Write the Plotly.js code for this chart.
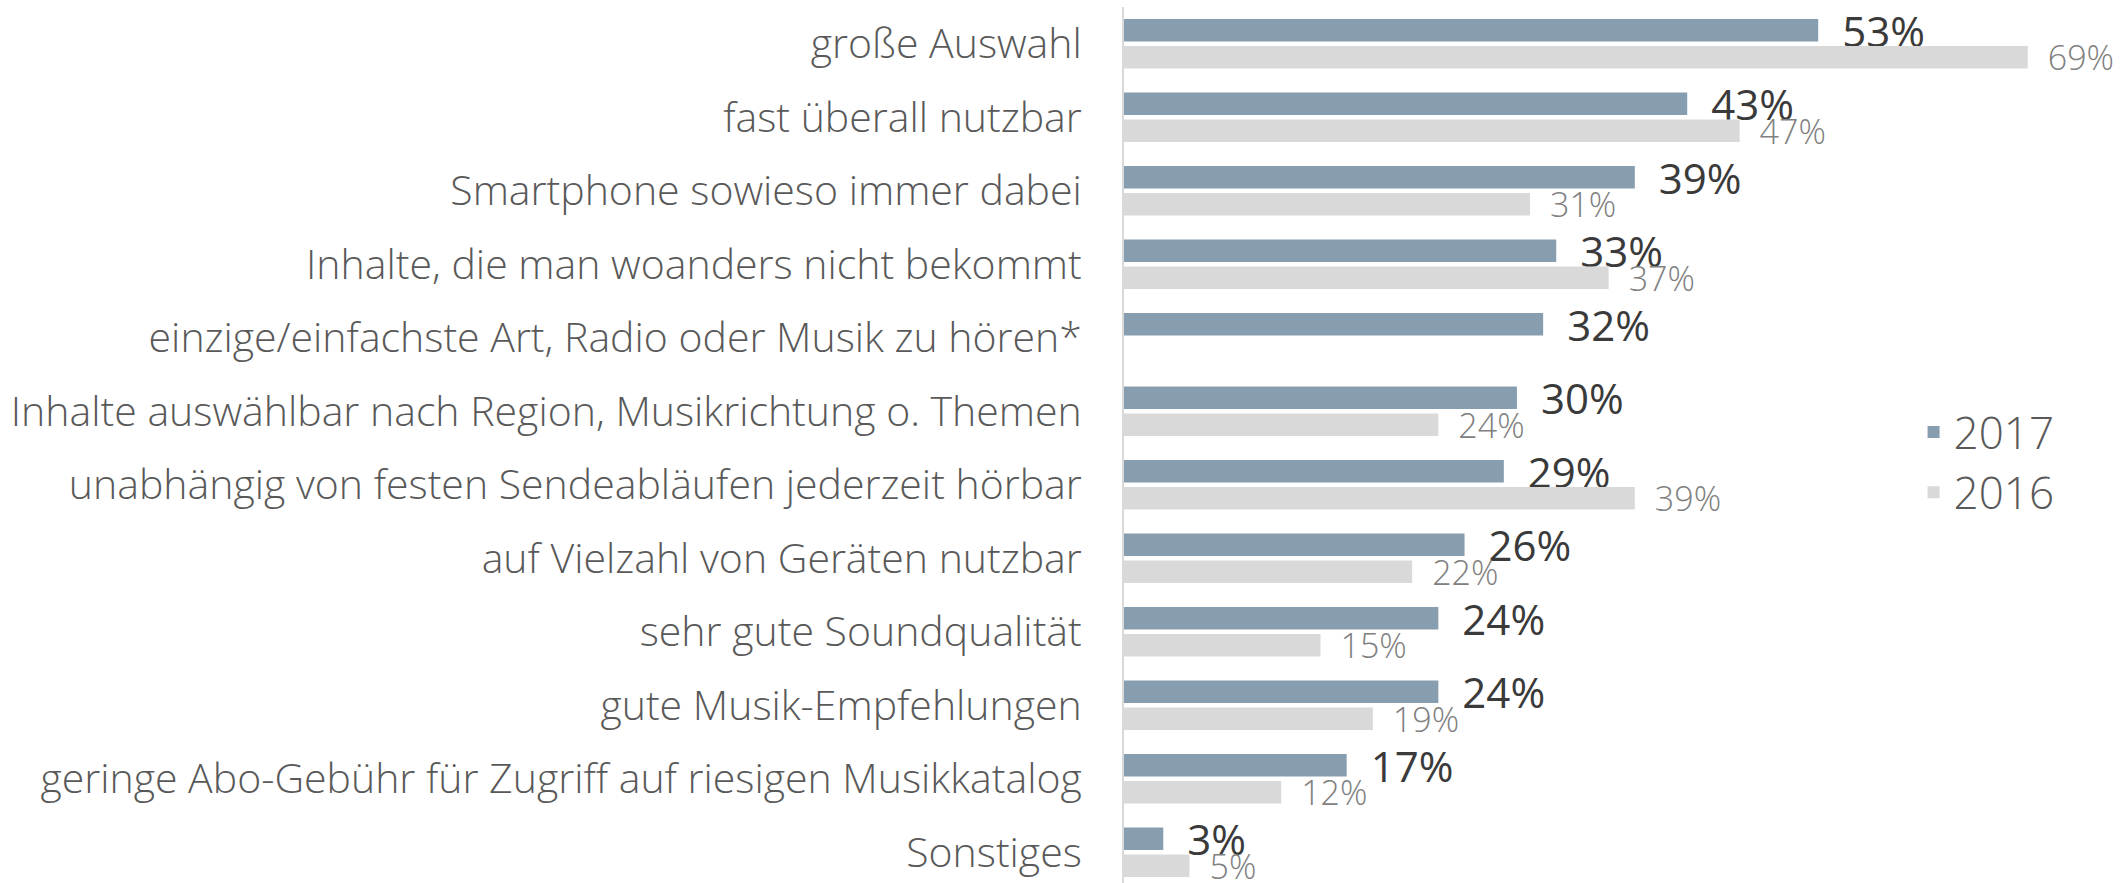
<!DOCTYPE html>
<html>
<head>
<meta charset="utf-8">
<script src="https://cdn.plot.ly/plotly-3.0.1.min.js"></script>
<style>
  html, body { margin: 0; padding: 0; background: #ffffff; }
  #chart { width: 2126px; height: 883px; }
</style>
</head>
<body>
<div id="chart"></div>
<script>
const categories = [
  "große Auswahl",
  "fast überall nutzbar",
  "Smartphone sowieso immer dabei",
  "Inhalte, die man woanders nicht bekommt",
  "einzige/einfachste Art, Radio oder Musik zu hören*",
  "Inhalte auswählbar nach Region, Musikrichtung o. Themen",
  "unabhängig von festen Sendeabläufen jederzeit hörbar",
  "auf Vielzahl von Geräten nutzbar",
  "sehr gute Soundqualität",
  "gute Musik-Empfehlungen",
  "geringe Abo-Gebühr für Zugriff auf riesigen Musikkatalog",
  "Sonstiges"
];
const values2017 = [53, 43, 39, 33, 32, 30, 29, 26, 24, 24, 17, 3];
const values2016 = [69, 47, 31, 37, null, 24, 39, 22, 15, 19, 12, 5];
const seriesNames = ["2017", "2016"];

const FONT = '"Open Sans", "Noto Sans", sans-serif';

const traces = [
  {
    type: 'bar', orientation: 'h', name: seriesNames[0],
    y: categories, x: values2017,
    marker: { color: '#879EB0' },
    text: values2017.map(v => v == null ? '' : '\u2002' + v + '%'),
    textposition: 'outside', constraintext: 'none', cliponaxis: false,
    textfont: { family: FONT, size: 42, color: '#3A3A3A' },
    hoverinfo: 'skip'
  },
  {
    type: 'bar', orientation: 'h', name: seriesNames[1],
    y: categories, x: values2016,
    marker: { color: '#D9D9D9' },
    text: values2016.map(v => v == null ? '' : '\u2002' + v + '%'),
    textposition: 'outside', constraintext: 'none', cliponaxis: false,
    textfont: { family: FONT, size: 34, color: '#808080', weight: 300 },
    hoverinfo: 'skip'
  }
];

const layout = {
  width: 2126, height: 883,
  margin: { l: 1124, r: 0, t: 7, b: 0, pad: 0 },
  paper_bgcolor: '#ffffff', plot_bgcolor: '#ffffff',
  font: { family: FONT, color: '#595959' },
  barmode: 'group', bargap: 0.265, bargroupgap: 0.17,
  showlegend: true,
  legend: {
    x: 0.788, xanchor: 'left', y: 0.48, yanchor: 'middle',
    font: { family: FONT, size: 44, color: '#595959', weight: 300 },
    bgcolor: 'rgba(0,0,0,0)', traceorder: 'normal'
  },
  xaxis: {
    range: [0, 76.5], showgrid: false, zeroline: false,
    showticklabels: false, showline: false, ticks: ''
  },
  yaxis: {
    type: 'category', range: [11.418, -0.5],
    showgrid: false, zeroline: false, ticks: '',
    showline: true, linecolor: '#D9D9D9', linewidth: 2,
    ticklabelstandoff: 32,
    tickfont: { family: FONT, size: 41, color: '#595959', weight: 300 }
  }
};

Plotly.newPlot('chart', traces, layout, { displayModeBar: false, staticPlot: true });
</script>
</body>
</html>
